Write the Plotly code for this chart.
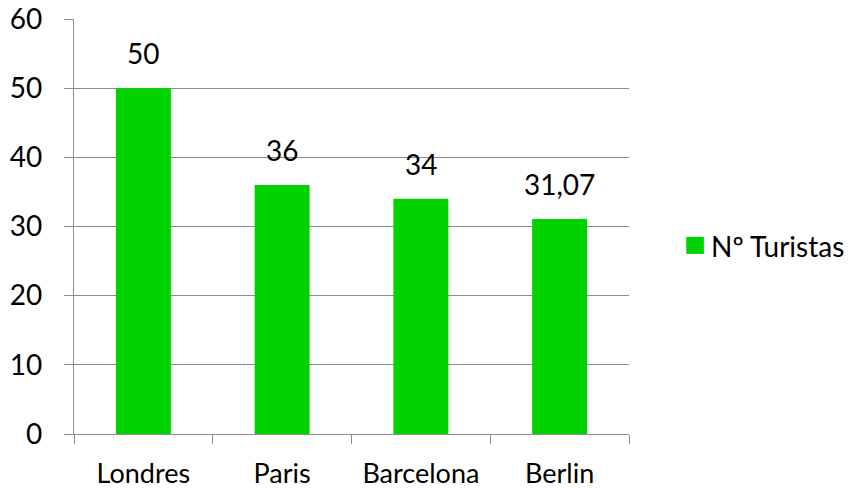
import plotly.graph_objects as go

categories = ["Londres", "Paris", "Barcelona", "Berlin"]
values = [50, 36, 34, 31.07]
series_name = "Nº Turistas"
y_ticks = [0, 10, 20, 30, 40, 50, 60]

labels = [(f"{v:g}").replace(".", ",") for v in values]

FONT = "Lato, Open Sans, sans-serif"
FS = 28
GREEN = "#00D300"
GRID = "#8c8c8c"

fig = go.Figure()
fig.add_trace(go.Bar(
    x=categories, y=values, name=series_name,
    marker=dict(color=GREEN, line=dict(width=0)),
    showlegend=False,
))

for c, v, t in zip(categories, values, labels):
    fig.add_annotation(x=c, y=v, text=t, showarrow=False, yanchor="bottom",
                       yshift=16, font=dict(family=FONT, size=FS, color="black"))

# legend (drawn manually to match the large swatch)
fig.add_shape(type="rect", xref="paper", yref="paper",
              x0=1.1032, x1=1.1349, y0=0.434, y1=0.475,
              fillcolor=GREEN, line=dict(width=0))
fig.add_annotation(xref="paper", yref="paper", x=1.1445, y=0.452,
                   xanchor="left", yanchor="middle", showarrow=False,
                   text=series_name, font=dict(family=FONT, size=FS, color="black"))

fig.update_layout(
    width=854, height=488,
    margin=dict(l=73.5, r=225.3, t=19.3, b=54),
    paper_bgcolor="white", plot_bgcolor="white",
    bargap=0.604,
    showlegend=False,
    font=dict(family=FONT, size=FS, color="black"),
    xaxis=dict(showline=True, linecolor=GRID, linewidth=1.3, ticks="outside",
               tickson="boundaries", ticklen=9, tickcolor=GRID, tickwidth=1.3,
               showgrid=False, ticklabelstandoff=15,
               tickfont=dict(family=FONT, size=27), automargin=False),
    yaxis=dict(range=[0, 60], tickvals=y_ticks, showline=True, linecolor=GRID,
               linewidth=1.3, ticks="outside", ticklen=9, tickcolor=GRID,
               tickwidth=1.3, showgrid=True, gridcolor=GRID, gridwidth=1.3,
               zeroline=False, ticklabelstandoff=16, automargin=False),
)

# remove the default 8px page margin so the figure sits at the window's corner
fig.write_html("out.html", config={"displayModeBar": False},
               post_script="document.body.style.margin='0';")
